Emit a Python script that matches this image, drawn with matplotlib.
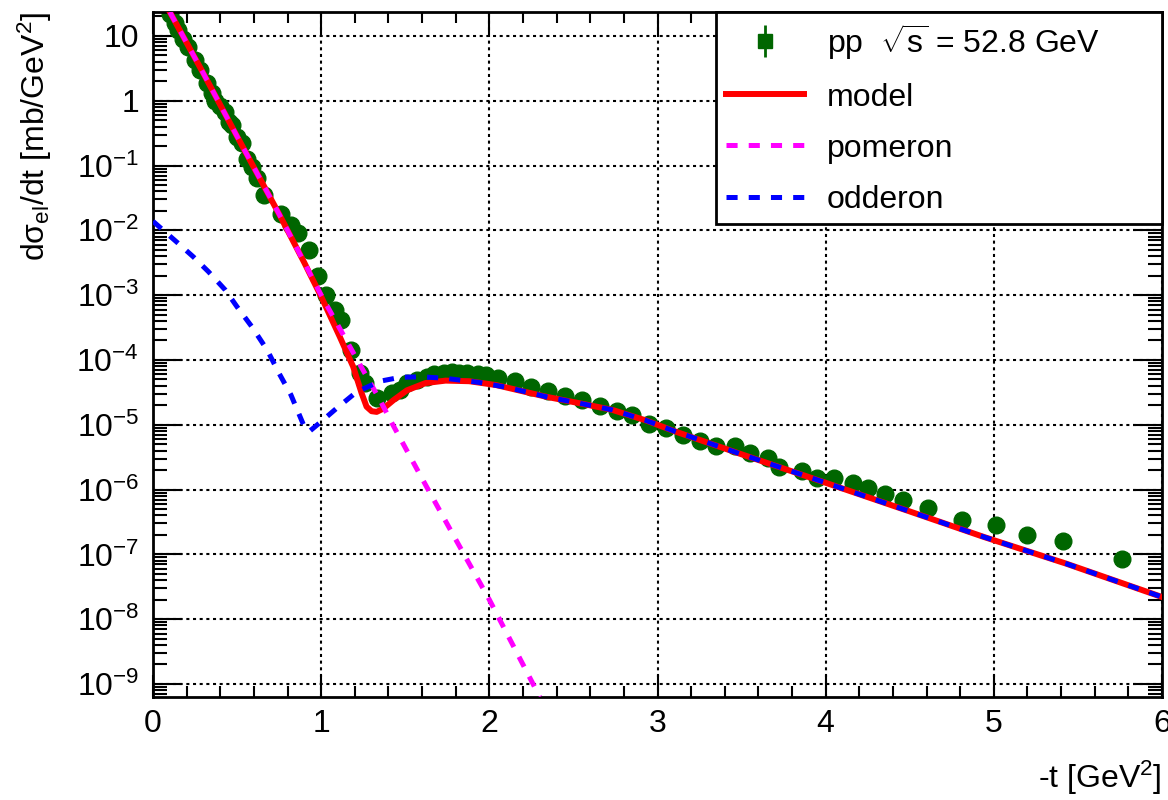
import numpy as np
import matplotlib
matplotlib.use("Agg")
import matplotlib.pyplot as plt
from matplotlib.ticker import FixedLocator, FixedFormatter, LogLocator, NullFormatter, MultipleLocator

plt.rcParams['font.family'] = ['Liberation Sans', 'DejaVu Sans']
plt.rcParams['mathtext.fontset'] = 'custom'
plt.rcParams['mathtext.rm'] = 'Liberation Sans'
plt.rcParams['mathtext.it'] = 'Liberation Sans:italic'
plt.rcParams['mathtext.sf'] = 'Liberation Sans'
plt.rcParams['lines.scale_dashes'] = False

# ---- data: pp elastic, sqrt(s) = 52.8 GeV ----
t_data = [0.10, 0.13, 0.15, 0.18, 0.21, 0.25, 0.28, 0.32, 0.35, 0.37, 0.40, 0.43, 0.45, 0.47,
          0.50, 0.53, 0.56, 0.59, 0.62, 0.66, 0.76, 0.82, 0.86, 0.93, 0.98, 1.03, 1.08, 1.12,
          1.18, 1.23, 1.26, 1.33, 1.42, 1.47, 1.51, 1.57, 1.63, 1.67, 1.73, 1.78, 1.82, 1.87,
          1.93, 1.98, 2.05, 2.15, 2.25, 2.35, 2.45, 2.55, 2.66, 2.76, 2.85, 2.95, 3.05, 3.15,
          3.25, 3.35, 3.46, 3.55, 3.66, 3.72, 3.86, 3.95, 4.05, 4.16, 4.25, 4.35, 4.46, 4.61,
          4.81, 5.01, 5.20, 5.41, 5.76]
dsdt_data = [22, 15.8, 12.3, 9.1, 6.8, 4.3, 3.0, 1.9, 1.3, 1.0, 0.83, 0.68, 0.47, 0.42,
             0.28, 0.22, 0.126, 0.095, 0.065, 0.035, 0.018, 0.012, 0.009, 5.0e-3, 2.0e-3, 1.0e-3, 5.9e-4, 4.2e-4,
             1.4e-4, 6.3e-5, 4.4e-5, 2.6e-5, 3.1e-5, 3.5e-5, 4.4e-5, 4.9e-5, 5.5e-5, 6.1e-5, 6.3e-5, 6.5e-5, 6.3e-5, 6.3e-5,
             6.1e-5, 5.9e-5, 5.3e-5, 4.8e-5, 3.8e-5, 3.3e-5, 2.8e-5, 2.4e-5, 1.95e-5, 1.62e-5, 1.41e-5, 1.02e-5, 8.9e-6, 6.9e-6,
             5.6e-6, 4.7e-6, 4.7e-6, 3.7e-6, 3.1e-6, 2.2e-6, 1.95e-6, 1.5e-6, 1.5e-6, 1.27e-6, 1.05e-6, 8.5e-7, 6.9e-7, 5.2e-7,
             3.4e-7, 2.8e-7, 2.0e-7, 1.6e-7, 8.5e-8]

# ---- model curves ----
t_model = [0.10, 0.30, 0.50, 0.75, 0.90, 1.00, 1.11, 1.19, 1.24, 1.27, 1.30, 1.33, 1.37, 1.43, 1.51,
           1.62, 1.74, 1.88, 2.04, 2.34, 2.54, 2.73, 2.93, 3.11, 3.50, 3.95, 4.50, 4.94, 5.43, 6.00]
dsdt_model = [23.4, 2.63, 0.282, 0.0178, 3.16e-3, 9.5e-4, 2.3e-4, 7.9e-5, 3.1e-5, 1.9e-5, 1.62e-5, 1.58e-5,
              1.78e-5, 2.4e-5, 3.4e-5, 4.4e-5, 4.8e-5, 4.7e-5, 4.1e-5, 2.7e-5, 2.14e-5, 1.7e-5, 1.17e-5,
              7.8e-6, 3.5e-6, 1.41e-6, 4.6e-7, 1.86e-7, 7.2e-8, 2.2e-8]

t_pomeron = [0.10, 0.30, 0.50, 0.75, 1.00, 1.20, 1.35, 1.42, 1.60, 1.80, 2.00, 2.20, 2.30]
dsdt_pomeron = [23.4, 2.63, 0.282, 0.0178, 1.0e-3, 1.17e-4, 2.4e-5, 1.07e-5, 1.48e-6, 1.7e-7,
                2.0e-8, 2.0e-9, 6.3e-10]

t_odderon = [0.00, 0.15, 0.24, 0.33, 0.43, 0.50, 0.59, 0.68, 0.75, 0.82, 0.90, 0.93, 1.00, 1.09,
             1.21, 1.35, 1.47, 1.60, 1.74, 1.94, 2.10, 2.34, 2.54, 2.73, 2.93, 3.11, 3.50, 3.95,
             4.50, 4.94, 5.43, 6.00]
dsdt_odderon = [1.38e-2, 6.3e-3, 3.9e-3, 2.3e-3, 1.2e-3, 6.6e-4, 3.2e-4, 1.41e-4, 6.2e-5, 2.9e-5,
                9.3e-6, 7.9e-6, 1.12e-5, 1.78e-5, 3.2e-5, 4.7e-5, 5.4e-5, 5.5e-5, 5.2e-5, 4.5e-5,
                3.8e-5, 2.7e-5, 2.14e-5, 1.7e-5, 1.17e-5, 7.8e-6, 3.5e-6, 1.41e-6, 4.6e-7, 1.86e-7,
                7.2e-8, 2.2e-8]

ytick_vals = [1e-9, 1e-8, 1e-7, 1e-6, 1e-5, 1e-4, 1e-3, 1e-2, 1e-1, 1, 10]
ytick_labels = ['$10^{-9}$', '$10^{-8}$', '$10^{-7}$', '$10^{-6}$', '$10^{-5}$', '$10^{-4}$',
                '$10^{-3}$', '$10^{-2}$', '$10^{-1}$', '1', '10']
xtick_vals = [0, 1, 2, 3, 4, 5, 6]
xtick_labels = ['0', '1', '2', '3', '4', '5', '6']

legend_labels = [r'pp  $\sqrt{\mathrm{s}}$ = 52.8 GeV', 'model', 'pomeron', 'odderon']

GREEN = '#006600'
FS = 23

fig = plt.figure(figsize=(11.68, 8.0), dpi=100)
fig.subplots_adjust(left=153/1168, right=1162/1168, top=1-12/800, bottom=1-697/800)
ax = fig.add_subplot(111)

ax.plot(t_data, dsdt_data, 'o', color=GREEN, ms=12, mec=GREEN, zorder=2)
l_model, = ax.plot(t_model, dsdt_model, '-', color='#ff0000', lw=4.3, zorder=3)
l_pom, = ax.plot(t_pomeron, dsdt_pomeron, color='#ff00ff', lw=3.6, dashes=(8, 8), zorder=4)
l_odd, = ax.plot(t_odderon, dsdt_odderon, color='#0000ff', lw=3.6, dashes=(8, 8), zorder=5)

# legend proxy for data (marker with error bar)
eb = ax.errorbar([np.nan], [np.nan], yerr=[np.nan], fmt='s', color=GREEN, ms=10,
                 elinewidth=2, capsize=0)

ax.set_yscale('log')
ax.set_xlim(0, 6)
ax.set_ylim(6.3e-10, 23.4)

ax.xaxis.set_major_locator(FixedLocator(xtick_vals))
ax.xaxis.set_major_formatter(FixedFormatter(xtick_labels))
ax.xaxis.set_minor_locator(MultipleLocator(0.2))
ax.yaxis.set_major_locator(FixedLocator(ytick_vals))
ax.yaxis.set_major_formatter(FixedFormatter(ytick_labels))
ax.yaxis.set_minor_locator(LogLocator(base=10, subs=np.arange(2, 10), numticks=30))
ax.yaxis.set_minor_formatter(NullFormatter())

ax.tick_params(which='both', direction='in', top=True, right=True, width=1.5, labelsize=FS)
ax.xaxis.set_tick_params(which='major', length=16, pad=9)
ax.xaxis.set_tick_params(which='minor', length=8)
ax.yaxis.set_tick_params(which='major', length=21, pad=10)
ax.yaxis.set_tick_params(which='minor', length=10)

ax.grid(True, which='major', color='black', lw=1.5, linestyle=(0, (2.2, 2.6)))
for s in ax.spines.values():
    s.set_linewidth(2)

ax.set_xlabel(r'-t [GeV$^{2}$]', fontsize=FS, loc='right', labelpad=14)
ax.set_ylabel(r'dσ$_{\mathrm{el}}$/dt [mb/GeV$^{2}$]', fontsize=FS, loc='top', labelpad=16)

leg = ax.legend([eb, l_model, l_pom, l_odd], legend_labels, fontsize=FS,
                loc='upper left', bbox_to_anchor=(0.558, 0.685, 0.442, 0.315), mode='expand',
                borderaxespad=0, fancybox=False, framealpha=1, edgecolor='black',
                handlelength=2.45, handletextpad=0.72, labelspacing=0.66, borderpad=0.3)
leg.get_frame().set_linewidth(2)
leg.set_zorder(10)

fig.savefig('out.png', dpi=100)
